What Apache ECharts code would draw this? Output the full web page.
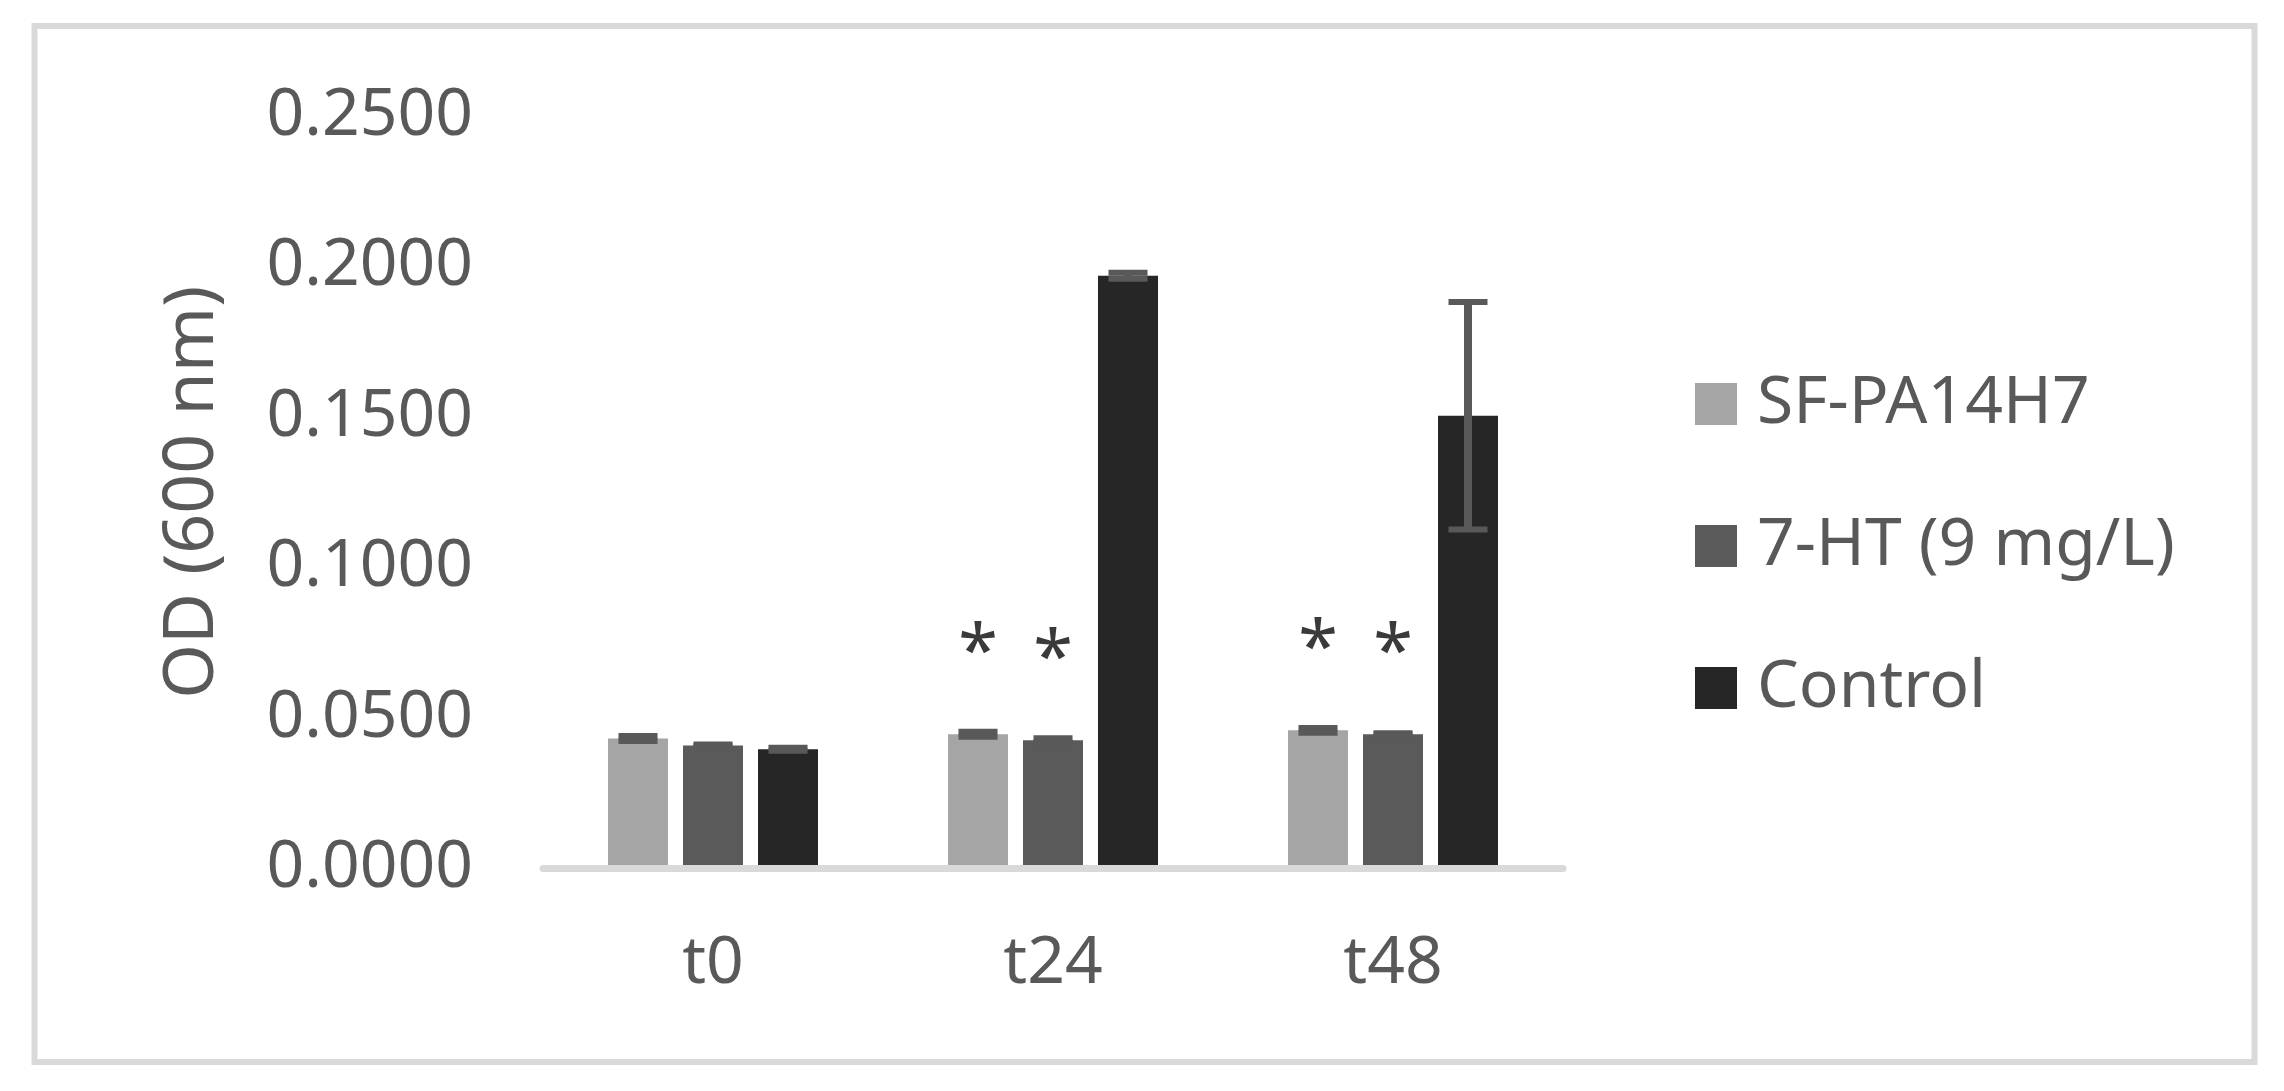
<!DOCTYPE html>
<html>
<head>
<meta charset="utf-8">
<script src="https://cdn.jsdelivr.net/npm/echarts@6/dist/echarts.min.js"></script>
<style>
html,body{margin:0;padding:0;background:#fff;}
#chart{width:2284px;height:1091px;}
</style>
</head>
<body>
<div id="chart"></div>
<script>
// ---- data ----
const categories = ['t0', 't24', 't48'];
const seriesNames = ['SF-PA14H7', '7-HT (9 mg/L)', 'Control'];
const valuesSF = [0.0432, 0.0446, 0.0459];
const valuesHT = [0.0409, 0.0426, 0.0446];
const valuesCtrl = [0.0396, 0.1969, 0.1504];
const errSF = [0.0008, 0.0008, 0.0008];
const errHT = [0.0003, 0.0007, 0.0003];
const errCtrl = [0.0005, 0.0010, 0.0378];
const sigSF = ['', '*', '*'];
const sigHT = ['', '*', '*'];
const sigCtrl = ['', '', ''];
const yTicks = [0, 0.05, 0.10, 0.15, 0.20, 0.25];

// ---- layout / style ----
const FONT = '"Noto Sans", sans-serif';
const TXT = '#595959';
const colors = ['#a5a5a5', '#5a5a5a', '#262626'];
const BAR_W = 60, BAR_GAP = 15;

const allVals = [valuesSF, valuesHT, valuesCtrl];
const allErr = [errSF, errHT, errCtrl];
const allSig = [sigSF, sigHT, sigCtrl];

const errData = [];
allVals.forEach((vals, s) => {
  vals.forEach((v, i) => errData.push([i, s, v, allErr[s][i]]));
});

const chart = echarts.init(document.getElementById('chart'), null, {renderer: 'canvas'});

const barSeries = allVals.map((vals, s) => ({
  type: 'bar',
  name: seriesNames[s],
  data: vals,
  barWidth: BAR_W,
  barGap: (BAR_GAP / BAR_W * 100) + '%',
  itemStyle: {color: colors[s]},
  z: 2,
  label: {
    show: true,
    position: 'top',
    distance: 80,
    verticalAlign: 'middle',
    formatter: p => allSig[s][p.dataIndex],
    fontFamily: FONT,
    fontSize: 72,
    color: '#3a3a3a'
  }
}));

const errSeries = {
  type: 'custom',
  name: 'err',
  data: errData,
  z: 4,
  silent: true,
  encode: {x: 0, y: 2},
  renderItem: function (params, api) {
    const ci = api.value(0), s = api.value(1), v = api.value(2), e = api.value(3);
    const x = api.coord([ci, 0])[0] + (s - 1) * (BAR_W + BAR_GAP);
    const yHi = api.coord([ci, v + e])[1];
    const yLo = api.coord([ci, v - e])[1];
    const cw = 19.5;
    const st = {stroke: '#595959', lineWidth: 6};
    return {
      type: 'group',
      children: [
        {type: 'line', shape: {x1: x, y1: yHi, x2: x, y2: yLo}, style: {stroke: '#595959', lineWidth: 8}},
        {type: 'line', shape: {x1: x - cw, y1: yHi, x2: x + cw, y2: yHi}, style: st},
        {type: 'line', shape: {x1: x - cw, y1: yLo, x2: x + cw, y2: yLo}, style: st}
      ]
    };
  }
};

const option = {
  backgroundColor: '#ffffff',
  animation: false,
  graphic: [{
    type: 'rect',
    shape: {x: 34.5, y: 26, width: 2220, height: 1036},
    style: {fill: 'none', stroke: '#d9d9d9', lineWidth: 6},
    z: 0
  }],
  grid: {left: 543, right: 721, top: 116, bottom: 222.5, containLabel: false},
  legend: {
    data: seriesNames,
    orient: 'vertical',
    left: 1695,
    top: 371,
    itemWidth: 42,
    itemHeight: 42,
    itemGap: 76,
    icon: 'rect',
    padding: 0,
    textStyle: {fontFamily: FONT, fontSize: 66, color: TXT, padding: [0, 0, 0, 15]}
  },
  xAxis: {
    type: 'category',
    data: categories,
    z: 5,
    axisLine: {show: true, lineStyle: {color: '#d9d9d9', width: 7}},
    axisTick: {show: false},
    axisLabel: {fontFamily: FONT, fontSize: 66, color: TXT, margin: 63}
  },
  yAxis: {
    type: 'value',
    min: 0,
    max: 0.25,
    interval: 0.05,
    name: 'OD (600 nm)',
    nameLocation: 'middle',
    nameGap: 315,
    nameTextStyle: {fontFamily: FONT, fontSize: 70, color: TXT},
    axisLine: {show: false},
    axisTick: {show: false},
    splitLine: {show: false},
    axisLabel: {
      fontFamily: FONT, fontSize: 66, color: TXT, margin: 70,
      formatter: v => v.toFixed(4)
    }
  },
  series: [...barSeries, errSeries]
};
chart.setOption(option);
</script>
</body>
</html>
